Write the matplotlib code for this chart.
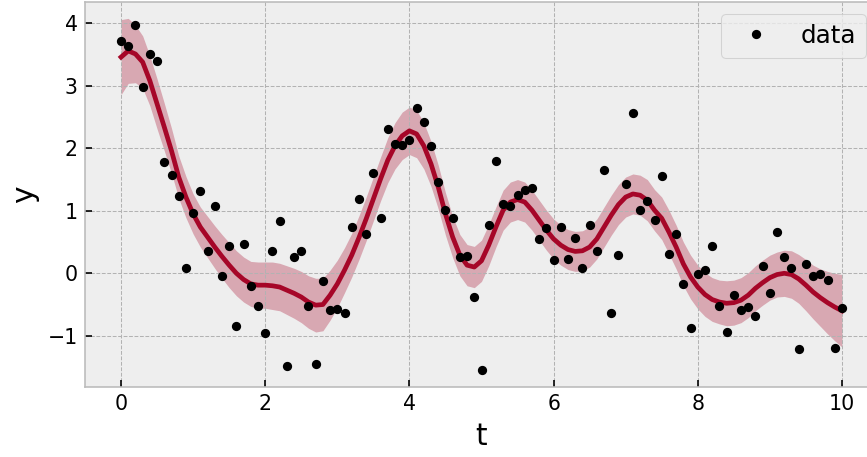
import numpy as np
import matplotlib.pyplot as plt

plt.style.use('bmh')

# observations
t = np.round(np.arange(0, 10.01, 0.1), 1)
y = np.array([
    3.72, 3.63, 3.97, 2.98, 3.51, 3.39, 1.78, 1.57, 1.24, 0.08,
    0.97, 1.31, 0.36, 1.07, -0.05, 0.44, -0.84, 0.47, -0.20, -0.53,
    -0.95, 0.36, 0.83, -1.49, 0.26, 0.36, -0.52, -1.45, -0.13, -0.58,
    -0.57, -0.64, 0.74, 1.19, 0.63, 1.60, 0.88, 2.31, 2.07, 2.05,
    2.14, 2.65, 2.42, 2.04, 1.46, 1.01, 0.88, 0.26, 0.28, -0.38,
    -1.55, 0.78, 1.80, 1.11, 1.08, 1.26, 1.33, 1.37, 0.55, 0.72,
    0.22, 0.74, 0.23, 0.56, 0.09, 0.77, 0.36, 1.65, -0.64, 0.30,
    1.43, 2.57, 1.01, 1.15, 0.85, 1.55, 0.31, 0.63, -0.17, -0.87,
    -0.01, 0.05, 0.44, -0.52, -0.94, -0.34, -0.59, -0.54, -0.69, 0.11,
    -0.31, 0.66, 0.26, 0.08, -1.21, 0.15, -0.05, -0.01, -0.11, -1.19,
    -0.56,
])

# posterior mean of the fit on the same grid
mu = np.array([
    3.46, 3.56, 3.51, 3.38, 3.08, 2.71, 2.34, 1.96, 1.54, 1.22,
    0.95, 0.74, 0.58, 0.42, 0.27, 0.13, 0.00, -0.10, -0.17, -0.19,
    -0.19, -0.20, -0.22, -0.27, -0.32, -0.38, -0.46, -0.51, -0.50, -0.35,
    -0.17, 0.05, 0.29, 0.57, 0.87, 1.19, 1.51, 1.81, 2.04, 2.20,
    2.28, 2.23, 2.04, 1.75, 1.38, 0.95, 0.58, 0.29, 0.13, 0.10,
    0.20, 0.45, 0.74, 1.01, 1.14, 1.18, 1.14, 1.01, 0.85, 0.69,
    0.55, 0.45, 0.38, 0.35, 0.36, 0.42, 0.55, 0.74, 0.93, 1.10,
    1.22, 1.27, 1.25, 1.17, 1.01, 0.88, 0.66, 0.42, 0.15, -0.06,
    -0.22, -0.34, -0.42, -0.46, -0.48, -0.47, -0.43, -0.35, -0.24, -0.15,
    -0.07, -0.02, 0.00, -0.02, -0.09, -0.19, -0.30, -0.39, -0.47, -0.54,
    -0.60,
])

# half width of the credible band
hw = np.array([
    0.60, 0.52, 0.46, 0.42, 0.40, 0.40, 0.38, 0.36, 0.34, 0.33,
    0.32, 0.32, 0.33, 0.34, 0.35, 0.36, 0.36, 0.36, 0.36, 0.37,
    0.37, 0.38, 0.38, 0.39, 0.40, 0.41, 0.42, 0.43, 0.42, 0.40,
    0.38, 0.36, 0.35, 0.35, 0.35, 0.35, 0.35, 0.36, 0.37, 0.38,
    0.38, 0.38, 0.37, 0.36, 0.35, 0.34, 0.33, 0.33, 0.33, 0.33,
    0.33, 0.33, 0.32, 0.32, 0.32, 0.32, 0.32, 0.32, 0.32, 0.32,
    0.32, 0.32, 0.32, 0.32, 0.32, 0.32, 0.32, 0.32, 0.32, 0.32,
    0.32, 0.32, 0.32, 0.33, 0.33, 0.34, 0.35, 0.35, 0.35, 0.35,
    0.35, 0.35, 0.35, 0.35, 0.36, 0.36, 0.36, 0.36, 0.36, 0.36,
    0.36, 0.36, 0.37, 0.38, 0.39, 0.41, 0.43, 0.46, 0.50, 0.54,
    0.58,
])

fig = plt.figure(figsize=(867 / 148, 457 / 148), dpi=148)
ax = fig.add_axes([85 / 867, 70 / 457, 793 / 867, 385.5 / 457])

ax.fill_between(t, mu - hw, mu + hw, color='#A60628', alpha=0.3, lw=0)
ax.plot(t, mu, color='#A60628', lw=2.3)
ax.plot(t, y, 'k.', ms=7, label='data')

ax.set_xlim(-0.5, 10.5)
ax.set_ylim(-1.82, 4.35)
ax.set_xlabel('t', fontsize=14.4)
ax.set_ylabel('y', fontsize=14.4)
ax.tick_params(labelsize=10, color='k')
ax.legend(loc='upper right', fontsize=12)

fig.savefig('out.png', dpi=148)
